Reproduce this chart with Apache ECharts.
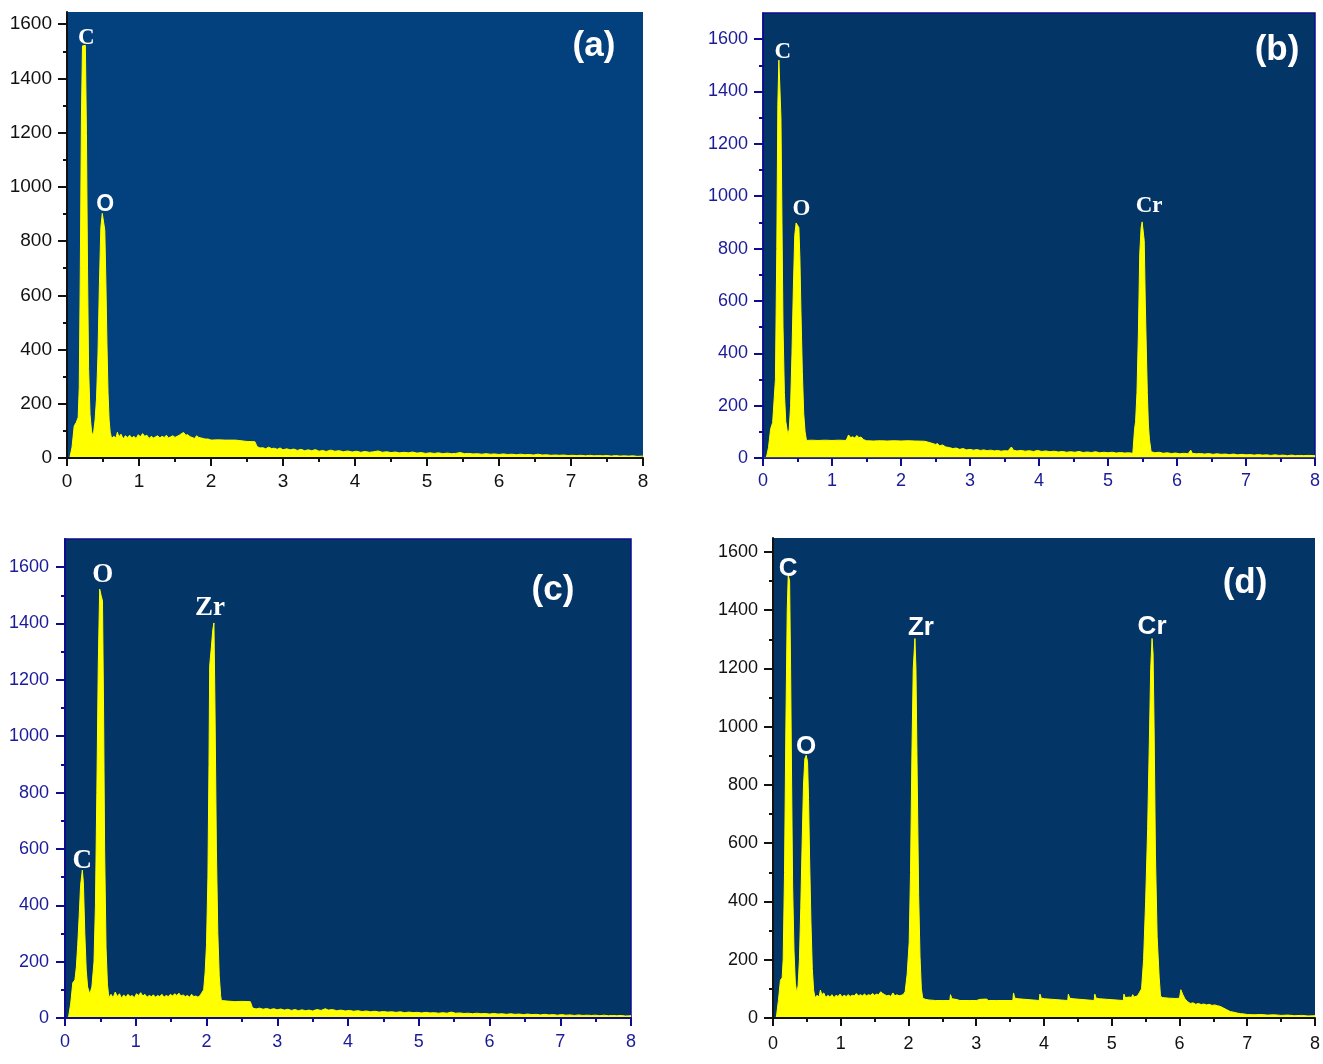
<!DOCTYPE html>
<html>
<head>
<meta charset="utf-8">
<title>EDS spectra</title>
<script src="https://cdn.jsdelivr.net/npm/echarts@6/dist/echarts.min.js"></script>
<style>
  html, body { margin: 0; padding: 0; background: #ffffff; }
  #chart { width: 1323px; height: 1064px; }
</style>
</head>
<body>
<div id="chart"></div>
<script>
// ---- Energy axis (keV) and count axis tick values ----
const xTickValues = [0, 1, 2, 3, 4, 5, 6, 7, 8];
const yTickValues = [0, 200, 400, 600, 800, 1000, 1200, 1400, 1600];
const yMinorTickValues = [100, 300, 500, 700, 900, 1100, 1300, 1500];

// ---- Spectrum (a): [energy keV, counts] ----
const specA = [
  [0,0],[0.04,2],[0.07,40],[0.10,118],[0.13,132],[0.155,150],[0.17,260],[0.185,700],[0.20,1250],[0.215,1520],[0.255,1522],[0.27,1200],[0.285,700],[0.30,330],[0.32,160],[0.34,100],[0.355,84],[0.37,95],[0.39,140],[0.41,220],[0.43,380],[0.45,640],[0.47,850],[0.49,902],[0.51,895],[0.525,840],[0.54,650],[0.555,420],[0.57,240],[0.585,140],[0.60,95],[0.62,72],
  [0.65,80],[0.68,74],[0.70,95],[0.72,78],[0.75,88],[0.78,70],[0.81,82],[0.84,76],[0.87,84],[0.90,74],[0.93,80],[0.96,72],[0.99,86],[1.02,78],[1.05,90],[1.08,80],[1.11,84],[1.14,72],[1.17,80],[1.20,74],[1.23,78],[1.26,82],[1.29,74],[1.32,80],[1.35,76],[1.38,84],[1.41,74],[1.44,78],[1.47,82],[1.50,76],[1.53,80],[1.56,84],[1.59,90],[1.62,94],[1.65,84],[1.68,86],[1.71,78],[1.74,76],[1.77,72],[1.80,82],[1.83,76],[1.86,74],[1.89,72],[1.92,70],[1.96,70],[2.00,66],[2.10,67],[2.20,66],[2.34,66],[2.35,60],[2.50,61],[2.61,60],
  [2.64,42],[2.68,37],[2.72,38],[2.76,34],[2.80,40],[2.84,35],[2.88,36],[2.92,32],[2.96,37],[3.00,30],[3.05,34],[3.10,30],[3.15,33],[3.20,28],[3.25,32],[3.30,27],[3.35,30],[3.40,27],[3.45,31],[3.50,25],[3.55,28],[3.60,24],[3.66,29],[3.72,25],[3.78,27],[3.84,23],[3.90,26],[3.96,22],[4.02,25],[4.08,21],[4.14,24],[4.20,21],[4.26,23],[4.32,26],[4.38,21],[4.44,23],[4.50,20],[4.56,22],[4.62,19],[4.68,21],[4.74,19],[4.80,22],[4.86,18],[4.92,20],[4.98,17],[5.04,19],[5.10,17],[5.16,19],[5.22,16],[5.28,18],[5.34,16],[5.40,17],[5.46,20],[5.52,16],[5.58,17],[5.64,15],[5.70,16],[5.76,14],[5.82,16],[5.88,14],[5.94,15],[6.00,13],[6.06,15],[6.12,13],[6.18,14],[6.24,12],[6.30,14],[6.36,12],[6.42,13],[6.48,11],[6.54,14],[6.60,11],[6.66,12],[6.72,10],[6.78,11],[6.84,10],[6.90,11],[6.96,9],[7.02,10],[7.08,9],[7.14,10],[7.20,8],[7.26,10],[7.32,8],[7.38,9],[7.44,8],[7.50,9],[7.56,7],[7.62,9],[7.68,7],[7.74,8],[7.80,7],[7.86,8],[7.92,6],[8.00,7]
];
const peakNamesA = ['C', 'O'];
const peakEnergiesA = [0.235, 0.49];

// ---- Spectrum (b) ----
const specB = [
  [0,0],[0.05,3],[0.08,40],[0.11,110],[0.14,136],[0.165,142],[0.18,300],[0.20,800],[0.215,1350],[0.23,1520],[0.25,1518],[0.26,1300],[0.275,900],[0.29,500],[0.31,250],[0.33,140],[0.36,88],[0.38,110],[0.40,200],[0.42,400],[0.44,650],[0.46,850],[0.48,898],[0.50,902],[0.52,880],[0.535,760],[0.55,560],[0.57,330],[0.59,170],[0.61,100],[0.63,67],
  [0.70,68],[0.80,67],[0.90,68],[1.00,67],[1.10,68],[1.20,67],[1.22,76],[1.24,88],[1.27,78],[1.30,81],[1.33,76],[1.36,86],[1.39,78],[1.42,80],[1.46,70],[1.50,66],[1.60,65],[1.70,66],[1.80,65],[1.90,66],[2.00,65],[2.10,66],[2.20,65],[2.34,64],[2.40,60],[2.45,56],[2.50,52],[2.53,55],[2.56,46],[2.60,50],[2.65,42],[2.70,40],[2.75,36],[2.80,38],[2.85,33],[2.90,36],[2.95,31],[3.00,33],[3.05,30],[3.10,32],[3.15,29],[3.20,31],[3.25,28],[3.30,30],[3.35,27],[3.40,29],[3.45,26],[3.50,28],[3.55,27],[3.60,42],[3.63,30],[3.68,27],[3.74,29],[3.80,26],[3.86,28],[3.92,25],[3.98,29],[4.04,25],[4.10,27],[4.16,24],[4.22,26],[4.28,23],[4.34,25],[4.40,22],[4.46,24],[4.52,22],[4.58,25],[4.64,21],[4.70,23],[4.76,21],[4.82,24],[4.88,20],[4.94,22],[5.00,20],[5.06,22],[5.12,19],[5.18,21],[5.24,19],[5.30,20],[5.36,18],
  [5.375,22],[5.385,110],[5.40,140],[5.42,250],[5.44,470],[5.46,780],[5.48,880],[5.495,902],[5.51,895],[5.525,830],[5.54,600],[5.555,420],[5.57,250],[5.585,130],[5.60,72],[5.62,70],[5.625,24],
  [5.68,20],[5.74,22],[5.80,18],[5.86,20],[5.92,17],[5.98,19],[6.04,16],[6.10,18],[6.16,16],[6.20,30],[6.22,18],[6.28,16],[6.34,17],[6.40,15],[6.46,17],[6.52,14],[6.58,16],[6.64,14],[6.70,15],[6.76,13],[6.82,15],[6.88,12],[6.94,14],[7.00,12],[7.06,13],[7.12,11],[7.18,13],[7.24,11],[7.30,12],[7.36,10],[7.42,12],[7.48,10],[7.54,11],[7.60,9],[7.66,11],[7.72,9],[7.78,10],[7.84,9],[7.90,10],[8.00,9]
];
const peakNamesB = ['C', 'O', 'Cr'];
const peakEnergiesB = [0.23, 0.50, 5.495];

// ---- Spectrum (c) ----
const specC = [
  [0,0],[0.05,3],[0.08,50],[0.11,125],[0.14,135],[0.16,180],[0.18,260],[0.20,360],[0.22,470],[0.245,525],[0.26,480],[0.28,300],[0.30,170],[0.32,110],[0.35,85],[0.38,110],[0.41,200],[0.43,400],[0.45,800],[0.47,1250],[0.49,1522],[0.51,1500],[0.53,1480],[0.545,1100],[0.56,600],[0.58,250],[0.60,120],[0.62,72],
  [0.65,84],[0.68,72],[0.71,92],[0.74,76],[0.77,86],[0.80,70],[0.83,82],[0.86,74],[0.89,84],[0.92,76],[0.95,80],[0.98,72],[1.01,86],[1.04,80],[1.07,90],[1.10,78],[1.13,84],[1.16,74],[1.19,80],[1.22,76],[1.25,82],[1.28,74],[1.31,80],[1.34,76],[1.37,84],[1.40,74],[1.43,80],[1.46,76],[1.49,84],[1.52,78],[1.55,86],[1.58,80],[1.61,88],[1.64,78],[1.67,82],[1.70,76],[1.73,80],[1.76,74],[1.79,84],[1.82,76],[1.85,78],[1.88,74],[1.91,80],[1.93,85],
  [1.96,100],[1.98,160],[2.00,260],[2.02,500],[2.035,900],[2.045,1250],[2.07,1320],[2.09,1380],[2.105,1402],[2.12,1100],[2.14,600],[2.16,300],[2.18,150],[2.20,80],[2.21,62],
  [2.30,60],[2.40,58],[2.50,59],[2.62,58],[2.65,36],[2.70,32],[2.75,35],[2.80,31],[2.85,34],[2.90,30],[2.95,33],[3.00,29],[3.05,32],[3.10,28],[3.15,31],[3.20,27],[3.25,30],[3.30,26],[3.35,29],[3.40,26],[3.45,28],[3.50,25],[3.56,30],[3.62,27],[3.68,33],[3.72,28],[3.78,30],[3.84,26],[3.90,28],[3.96,25],[4.02,27],[4.08,24],[4.14,26],[4.20,23],[4.26,25],[4.32,22],[4.38,24],[4.44,21],[4.50,23],[4.56,21],[4.62,22],[4.68,20],[4.74,22],[4.80,19],[4.86,21],[4.92,19],[4.98,20],[5.04,18],[5.10,20],[5.16,18],[5.22,19],[5.28,17],[5.34,19],[5.40,17],[5.46,21],[5.52,17],[5.58,18],[5.64,16],[5.70,17],[5.76,15],[5.82,17],[5.88,15],[5.94,16],[6.00,14],[6.06,16],[6.12,14],[6.18,15],[6.24,13],[6.30,15],[6.36,13],[6.42,14],[6.48,12],[6.54,14],[6.60,12],[6.66,13],[6.72,11],[6.78,13],[6.84,11],[6.90,12],[6.96,10],[7.02,12],[7.08,10],[7.14,11],[7.20,9],[7.26,11],[7.32,9],[7.38,10],[7.44,9],[7.50,10],[7.56,8],[7.62,10],[7.68,8],[7.74,9],[7.80,8],[7.86,9],[7.92,7],[8.00,8]
];
const peakNamesC = ['C', 'O', 'Zr'];
const peakEnergiesC = [0.245, 0.49, 2.105];

// ---- Spectrum (d) ----
const specD = [
  [0,0],[0.05,3],[0.08,60],[0.11,130],[0.135,138],[0.15,200],[0.17,500],[0.19,1000],[0.21,1400],[0.225,1522],[0.245,1500],[0.26,1200],[0.275,800],[0.29,450],[0.31,230],[0.33,120],[0.35,86],[0.37,110],[0.39,200],[0.41,380],[0.43,600],[0.45,800],[0.47,890],[0.49,902],[0.51,880],[0.525,750],[0.54,550],[0.56,330],[0.58,170],[0.60,95],[0.62,70],
  [0.65,78],[0.68,72],[0.70,96],[0.72,80],[0.75,86],[0.78,70],[0.81,78],[0.84,72],[0.87,80],[0.90,70],[0.93,78],[0.96,74],[0.99,82],[1.02,72],[1.05,78],[1.08,74],[1.11,80],[1.14,74],[1.17,78],[1.20,76],[1.23,84],[1.26,76],[1.29,80],[1.32,76],[1.35,82],[1.38,76],[1.41,80],[1.44,78],[1.47,84],[1.50,78],[1.53,82],[1.56,80],[1.59,90],[1.62,84],[1.65,80],[1.68,76],[1.71,78],[1.74,74],[1.77,86],[1.80,76],[1.83,80],[1.86,76],[1.89,78],[1.92,80],[1.95,90],
  [1.98,150],[2.01,260],[2.03,500],[2.05,900],[2.07,1200],[2.095,1303],[2.11,1200],[2.13,800],[2.15,420],[2.17,210],[2.19,100],[2.21,68],
  [2.25,64],[2.30,62],[2.40,60],[2.50,60],[2.61,60],[2.62,80],[2.64,66],[2.70,64],[2.76,60],[2.90,60],[3.00,60],[3.06,64],[3.15,65],[3.18,60],[3.30,60],[3.54,60],[3.55,86],[3.57,68],[3.62,66],[3.64,60],[3.93,60],[3.94,82],[3.96,68],[4.01,66],[4.03,60],[4.35,60],[4.36,82],[4.38,68],[4.43,66],[4.45,60],[4.74,60],[4.75,82],[4.77,68],[4.82,66],[4.84,60],[5.17,60],[5.18,82],[5.20,70],[5.26,72],[5.29,70],[5.31,80],[5.33,72],[5.38,76],[5.41,88],
  [5.44,100],[5.47,200],[5.50,400],[5.53,650],[5.555,950],[5.575,1200],[5.595,1303],[5.61,1250],[5.625,1000],[5.645,560],[5.67,280],[5.70,140],[5.72,75],
  [5.75,70],[5.85,68],[5.95,67],[6.00,68],[6.02,97],[6.05,80],[6.08,66],[6.12,56],[6.16,50],[6.20,52],[6.24,47],[6.28,50],[6.32,46],[6.36,48],[6.40,45],[6.44,47],[6.48,43],[6.52,45],[6.56,42],[6.60,40],[6.65,34],[6.70,28],[6.75,22],[6.80,20],[6.85,17],[6.90,15],[6.95,14],[7.00,12],[7.10,11],[7.20,12],[7.30,10],[7.40,11],[7.50,9],[7.60,10],[7.70,8],[7.80,9],[7.90,7],[8.00,8]
];
const peakNamesD = ['C', 'O', 'Zr', 'Cr'];
const peakEnergiesD = [0.225, 0.49, 2.095, 5.595];

const panelLetters = ['(a)', '(b)', '(c)', '(d)'];

// ---- Styling ----
const SANS = '"Liberation Sans", Arial, Helvetica, sans-serif';
const SERIF = '"Liberation Serif", "Times New Roman", Times, serif';
const YELLOW = '#ffff00';
const NAVY = '#0c0c8e';
const NAVY_TEXT = '#1b1b98';

const panels = [
  { spec: specA, names: peakNamesA, energies: peakEnergiesA,
    grid: { left: 67, top: 12, width: 576, height: 446 }, yMax: 1645,
    bg: '#03407e', axisColor: '#111111', textColor: '#111111', frame: false,
    tickFont: 19, xMargin: 14, yMargin: 15, axisWidth: 2,
    labelFont: SERIF, labelSize: 23,
    labelOffsets: [[1, 4], [3, 3]],
    labelFonts: [SERIF, SANS],
    letterPos: [594, 46] },
  { spec: specB, names: peakNamesB, energies: peakEnergiesB,
    grid: { left: 763, top: 13, width: 553, height: 445 }, yMax: 1700,
    bg: '#033567', axisColor: NAVY, textColor: NAVY_TEXT, frame: true,
    tickFont: 18, xMargin: 14, yMargin: 15, axisWidth: 1.5,
    labelFont: SERIF, labelSize: 23,
    labelOffsets: [[4, 3], [4, -1], [7, -4]],
    letterPos: [1277, 50] },
  { spec: specC, names: peakNamesC, energies: peakEnergiesC,
    grid: { left: 65, top: 539, width: 566, height: 479 }, yMax: 1700,
    bg: '#033567', axisColor: NAVY, textColor: NAVY_TEXT, frame: true,
    tickFont: 18, xMargin: 15, yMargin: 16, axisWidth: 2,
    labelFont: SERIF, labelSize: 27,
    labelOffsets: [[0, 4], [3, -1], [-4, -1]],
    letterPos: [553, 590] },
  { spec: specD, names: peakNamesD, energies: peakEnergiesD,
    grid: { left: 773, top: 538, width: 545, height: 480 }, yMax: 1648,
    bg: '#033567', axisColor: '#111111', textColor: '#111111', frame: false,
    tickFont: 18, xMargin: 17, yMargin: 15, axisWidth: 2,
    labelFont: SANS, labelSize: 26,
    labelOffsets: [[0, 7], [0, 5], [6, 2], [0, 1]],
    letterPos: [1245, 583] }
];

// Tallest channel of a spectrum within a small window around a line energy
function peakTop(spec, energy) {
  let best = null;
  spec.forEach(function (p) {
    if (Math.abs(p[0] - energy) <= 0.06 && (!best || p[1] > best[1])) best = p;
  });
  return best;
}

const plainNumber = function (v) { return String(v); };
const grid = [], xAxis = [], yAxis = [], series = [], graphic = [];

panels.forEach(function (p, i) {
  grid.push(Object.assign({
    show: true,
    backgroundColor: p.bg,
    borderColor: p.frame ? p.axisColor : 'transparent',
    borderWidth: p.frame ? 1.5 : 0,
    containLabel: false
  }, p.grid));

  xAxis.push({
    gridIndex: i, type: 'value', min: xTickValues[0], max: xTickValues[xTickValues.length - 1], interval: 1,
    z: 5,
    axisLine: { show: true, onZero: false, lineStyle: { color: p.axisColor, width: p.axisWidth } },
    axisTick: { show: true, inside: false, length: 8, lineStyle: { color: p.axisColor, width: 2 } },
    minorTick: { show: true, splitNumber: 2, length: 4, lineStyle: { color: p.axisColor, width: 2 } },
    axisLabel: { color: p.textColor, fontSize: p.tickFont, fontFamily: SANS, margin: p.xMargin,
                 formatter: plainNumber, showMinLabel: true, showMaxLabel: true },
    splitLine: { show: false }, minorSplitLine: { show: false }
  });

  // Major ticks with labels
  yAxis.push({
    gridIndex: i, type: 'value', min: 0, max: p.yMax, position: 'left',
    z: 5,
    axisLine: { show: true, onZero: false, lineStyle: { color: p.axisColor, width: p.axisWidth } },
    axisTick: { show: true, inside: false, length: 9, customValues: yTickValues,
                lineStyle: { color: p.axisColor, width: 2 } },
    axisLabel: { show: true, customValues: yTickValues, formatter: plainNumber, color: p.textColor,
                 fontSize: p.tickFont, fontFamily: SANS, margin: p.yMargin },
    splitLine: { show: false }
  });
  // Minor ticks
  yAxis.push({
    gridIndex: i, type: 'value', min: 0, max: p.yMax, position: 'left', offset: 0,
    z: 5,
    axisLine: { show: false },
    axisTick: { show: true, inside: false, length: 4, customValues: yMinorTickValues,
                lineStyle: { color: p.axisColor, width: 2 } },
    axisLabel: { show: false },
    splitLine: { show: false }
  });

  series.push({
    type: 'line', xAxisIndex: i, yAxisIndex: 2 * i,
    data: p.spec, symbol: 'none', showSymbol: false, smooth: false,
    lineStyle: { color: YELLOW, width: 1 },
    areaStyle: { color: YELLOW, opacity: 1 },
    silent: true, animation: false, z: 2
  });

  series.push({
    type: 'scatter', xAxisIndex: i, yAxisIndex: 2 * i,
    symbolSize: 1, itemStyle: { color: 'rgba(0,0,0,0)', opacity: 1 },
    silent: true, animation: false, z: 6,
    data: p.names.map(function (name, k) {
      const top = peakTop(p.spec, p.energies[k]);
      const font = p.labelFonts ? p.labelFonts[k] : p.labelFont;
      return {
        name: name, value: top,
        label: {
          show: true, position: 'inside', align: 'center', verticalAlign: 'bottom',
          formatter: '{b}', color: '#ffffff', opacity: 1, textBorderWidth: 0,
          fontFamily: font, fontWeight: 'bold',
          fontSize: p.labelSize, offset: p.labelOffsets[k]
        }
      };
    })
  });

  graphic.push({
    type: 'text', x: p.letterPos[0], y: p.letterPos[1], z: 10,
    style: {
      text: panelLetters[i], fill: '#ffffff', font: 'bold 35px ' + SANS,
      textAlign: 'center', textVerticalAlign: 'middle'
    }
  });
});

const chart = echarts.init(document.getElementById('chart'), null, { renderer: 'canvas' });
chart.setOption({
  backgroundColor: '#ffffff',
  animation: false,
  grid: grid, xAxis: xAxis, yAxis: yAxis, series: series, graphic: graphic,
  tooltip: { show: false }
});
</script>
</body>
</html>
